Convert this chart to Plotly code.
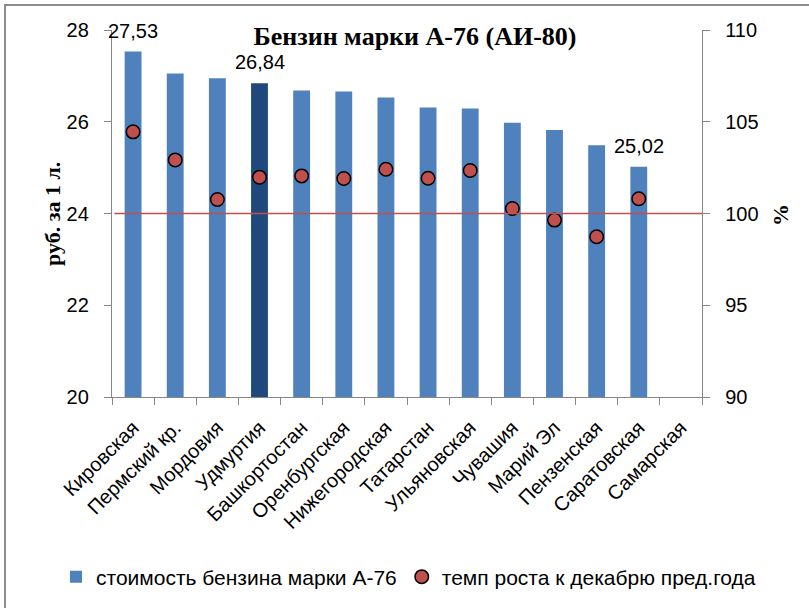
import plotly.graph_objects as go

# ---------------- data ----------------
regions = ["Кировская", "Пермский кр.", "Мордовия", "Удмуртия", "Башкортостан",
           "Оренбургская", "Нижегородская", "Татарстан", "Ульяновская", "Чувашия",
           "Марий Эл", "Пензенская", "Саратовская", "Самарская"]
price = [27.53, 27.05, 26.95, 26.84, 26.68, 26.66, 26.53, 26.31, 26.29, 25.98,
         25.82, 25.49, 25.02, None]
growth = [104.45, 102.92, 100.76, 101.98, 102.05, 101.91, 102.41, 101.92, 102.34,
          100.27, 99.64, 98.73, 100.80, None]
labeled = ["Кировская", "Удмуртия", "Саратовская"]
highlight = "Удмуртия"
baseline = 100
left_ticks = [20, 22, 24, 26, 28]
right_ticks = [90, 95, 100, 105, 110]

# ---------------- style ----------------
W, H = 809, 608
ML, MR, MT, MB = 112, 107, 30, 211
PW, PH = W - ML - MR, H - MT - MB
BLUE = "#4F81BD"
DARK = "#1F497D"
RED = "#C0504D"
GRAY = "#868686"
SANS = "Liberation Sans"
SERIF = "Liberation Serif"


def px_x(p):
    return (p - ML) / PW


def px_y(p):
    return (H - MB - p) / PH


fig = go.Figure()
fig.add_trace(go.Bar(
    x=regions, y=price, name="стоимость бензина марки А-76",
    marker=dict(color=[DARK if r == highlight else BLUE for r in regions],
                line=dict(width=0)),
    yaxis="y", hoverinfo="x+y"))
fig.add_trace(go.Scatter(
    x=regions, y=growth, name="темп роста к декабрю пред.года", mode="markers",
    marker=dict(color=RED, size=13.5, line=dict(color="black", width=1.5)),
    yaxis="y2"))

annotations = []
for r, v in zip(regions, price):
    if r in labeled:
        annotations.append(dict(
            x=r, y=v, xref="x", yref="y", text=f"{v:.2f}".replace(".", ","),
            showarrow=False, yanchor="middle", yshift=21,
            font=dict(family=SANS, size=20, color="black")))

annotations.append(dict(
    x=px_x(52), y=px_y(214), xref="paper", yref="paper", text="<b>руб. за 1 л.</b>",
    textangle=-90, showarrow=False, xanchor="center", yanchor="middle",
    font=dict(family=SERIF, size=22, color="black")))
annotations.append(dict(
    x=px_x(780), y=px_y(215), xref="paper", yref="paper", text="<b>%</b>",
    textangle=-90, showarrow=False, xanchor="center", yanchor="middle",
    font=dict(family=SERIF, size=22, color="black")))

shapes = [
    dict(type="line", xref="paper", yref="y2", x0=0.004, x1=1, y0=baseline, y1=baseline,
         line=dict(color=RED, width=1.6), layer="above"),
    dict(type="rect", xref="paper", yref="paper",
         x0=px_x(5), x1=px_x(W + 10), y0=px_y(5), y1=px_y(H + 10),
         line=dict(color="#8C8C8C", width=2), fillcolor="rgba(0,0,0,0)", layer="below"),
]

axis_common = dict(showline=True, linecolor=GRAY, linewidth=1.3, ticks="outside",
                   ticklen=7, tickcolor=GRAY, tickwidth=1.3, showgrid=False,
                   zeroline=False, tickfont=dict(family=SANS, size=20, color="black"))

fig.update_layout(
    width=W, height=H,
    margin=dict(l=ML, r=MR, t=MT, b=MB, autoexpand=False),
    paper_bgcolor="white", plot_bgcolor="white",
    bargap=0.6,
    showlegend=True,
    title=dict(text="<b>Бензин марки А-76 (АИ-80)</b>", x=415 / W, xanchor="center",
               y=1 - 36 / H, yanchor="middle", xref="container", yref="container",
               font=dict(family=SERIF, size=26, color="black")),
    xaxis=dict(type="category", range=[-0.5, len(regions) - 0.5], tickangle=-45,
               tickson="boundaries", ticklabelstandoff=10, **axis_common),
    yaxis=dict(range=[20, 28], tickvals=left_ticks, ticklabelstandoff=11, **axis_common),
    yaxis2=dict(range=[90, 110], tickvals=right_ticks, overlaying="y", side="right",
                ticklabelstandoff=11, **axis_common),
    legend=dict(orientation="h", x=px_x(56), y=px_y(577), xanchor="left",
                yanchor="middle", font=dict(family=SANS, size=21, color="black"),
                bgcolor="rgba(0,0,0,0)", itemwidth=30),
    annotations=annotations,
    shapes=shapes,
)

fig.write_html("out.html", config={"displayModeBar": False},
               post_script="document.body.style.margin='0px';")
